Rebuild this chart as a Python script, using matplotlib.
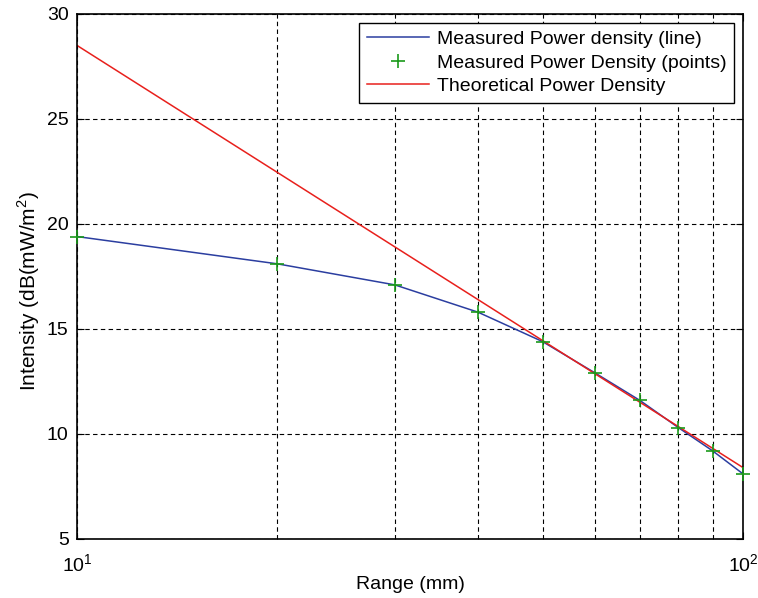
import numpy as np
import matplotlib
matplotlib.use("Agg")
import matplotlib.pyplot as plt
from matplotlib.ticker import LogLocator, NullFormatter

# 数据
range_mm = [10, 20, 30, 40, 50, 60, 70, 80, 90, 100]
measured_db = [19.4, 18.1, 17.1, 15.8, 14.4, 12.9, 11.6, 10.3, 9.2, 8.1]
theory_x = [10, 100]
theory_db = [28.5, 8.4]

plt.rcParams['font.family'] = ['Liberation Sans', 'DejaVu Sans']
plt.rcParams['mathtext.fontset'] = 'custom'
plt.rcParams['mathtext.rm'] = 'Liberation Sans'

fig = plt.figure(figsize=(7.58, 5.98), dpi=100)
ax = fig.add_axes([0.1016, 0.0987, 0.8786, 0.878])

ax.plot(range_mm, measured_db, color='#2b3ea0', lw=1.1, label='Measured Power density (line)')
ax.plot(range_mm, measured_db, ls='none', marker='+', ms=10, mew=1.2, color='#1a9a1a',
        clip_on=False, zorder=5, label='Measured Power Density (points)')
ax.plot(theory_x, theory_db, color='#e8201c', lw=1.1, label='Theoretical Power Density')

ax.set_xscale('log')
ax.set_xlim(10, 100)
ax.set_ylim(5, 30)
ax.set_yticks([5, 10, 15, 20, 25, 30])
ax.xaxis.set_minor_locator(LogLocator(base=10, subs=np.arange(2, 10)))
ax.xaxis.set_minor_formatter(NullFormatter())

ax.grid(True, which='both', axis='x', ls=(0, (4, 3)), color='black', lw=0.8)
ax.grid(True, which='major', axis='y', ls=(0, (4, 3)), color='black', lw=0.8)

ax.tick_params(which='both', direction='in', top=True, right=True, labelsize=14)
ax.tick_params(which='major', length=5)
ax.tick_params(which='minor', length=3)
ax.tick_params(axis='y', pad=6)
ax.tick_params(axis='x', pad=10)
for s in ax.spines.values():
    s.set_linewidth(1.2)

ax.set_xlabel('Range (mm)', fontsize=14, labelpad=1)
ax.set_ylabel('Intensity (dB(mW/m$^2$)', fontsize=15)
ax.yaxis.set_label_coords(-0.053, 0.472)

leg = ax.legend(loc='upper right', fontsize=14, fancybox=False, framealpha=1,
                edgecolor='black', borderaxespad=0.45, borderpad=0.4,
                labelspacing=0.3, handlelength=3.2, handletextpad=0.4)
leg.get_frame().set_linewidth(1.0)

fig.savefig('out.png', dpi=100)
